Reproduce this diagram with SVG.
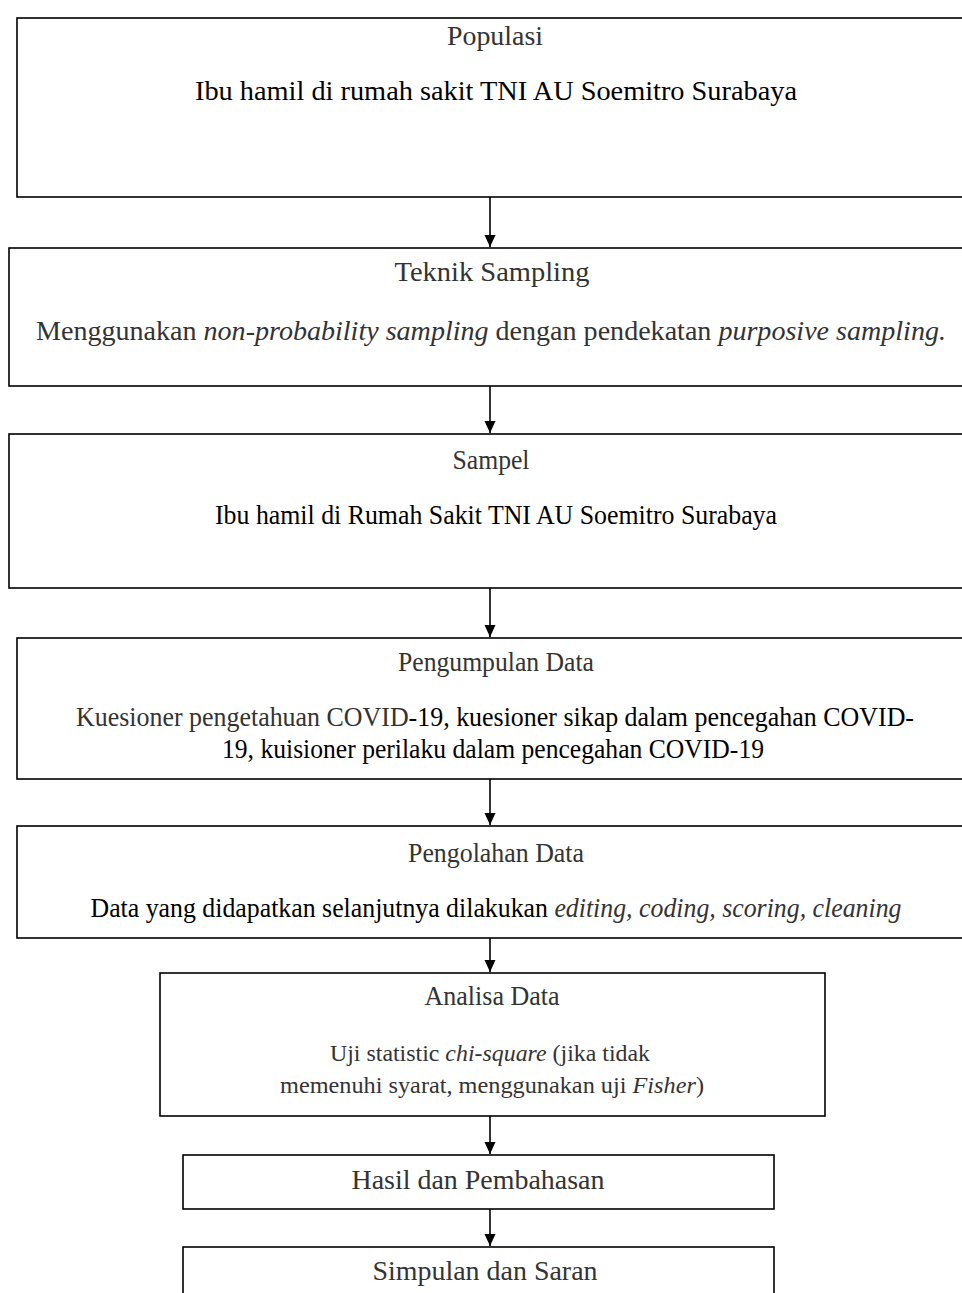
<svg xmlns="http://www.w3.org/2000/svg" width="962" height="1293" viewBox="0 0 962 1293">
<style>
.box{fill:#fff;stroke:#000;stroke-width:1.6}
text{font-family:'Liberation Serif','Times New Roman',serif;text-anchor:middle;font-size:27px}
.g{fill:#333}
.k{fill:#000}
.sm{font-size:23.5px}
.conn line{stroke:#000;stroke-width:1.6}
</style>
<defs>
<marker id="ah" viewBox="0 0 12 12" refX="12" refY="6" markerWidth="12" markerHeight="12" markerUnits="userSpaceOnUse" orient="auto">
<path d="M0,0.5 L12,6 L0,11.5 z" fill="#000"/>
</marker>
</defs>
<rect width="962" height="1293" fill="#fff"/>
<g id="n1">
<rect class="box" x="17" y="18" width="960" height="179"/>
<text class="g" x="495" y="45" textLength="96" lengthAdjust="spacingAndGlyphs">Populasi</text>
<text class="k" x="496" y="100" textLength="602" lengthAdjust="spacingAndGlyphs">Ibu hamil di rumah sakit TNI AU Soemitro Surabaya</text>
</g>
<g id="n2">
<rect class="box" x="9" y="248" width="968" height="138"/>
<text class="g" x="492" y="281" textLength="195" lengthAdjust="spacingAndGlyphs">Teknik Sampling</text>
<text class="g" x="491" y="340" textLength="910" lengthAdjust="spacingAndGlyphs">Menggunakan <tspan font-style="italic">non-probability sampling</tspan> dengan pendekatan <tspan font-style="italic">purposive sampling.</tspan></text>
</g>
<g id="n3">
<rect class="box" x="9" y="434" width="968" height="154"/>
<text class="g" x="491" y="469" textLength="77" lengthAdjust="spacingAndGlyphs">Sampel</text>
<text class="k" x="496" y="524" textLength="562" lengthAdjust="spacingAndGlyphs">Ibu hamil di Rumah Sakit TNI AU Soemitro Surabaya</text>
</g>
<g id="n4">
<rect class="box" x="17" y="638" width="960" height="141"/>
<text class="g" x="496" y="671" textLength="196" lengthAdjust="spacingAndGlyphs">Pengumpulan Data</text>
<text class="k" x="495" y="726" textLength="838" lengthAdjust="spacingAndGlyphs"><tspan class="g">Kuesioner pengetahuan COVID</tspan>-19, kuesioner sikap dalam pencegahan COVID-</text>
<text class="k" x="493" y="758" textLength="542" lengthAdjust="spacingAndGlyphs">19, kuisioner perilaku dalam pencegahan COVID-19</text>
</g>
<g id="n5">
<rect class="box" x="17" y="826" width="960" height="112"/>
<text class="g" x="496" y="862" textLength="176" lengthAdjust="spacingAndGlyphs">Pengolahan Data</text>
<text class="k" x="496" y="917" textLength="811" lengthAdjust="spacingAndGlyphs">Data yang didapatkan selanjutnya dilakukan <tspan class="g" font-style="italic">editing, coding, scoring, cleaning</tspan></text>
</g>
<g id="n6">
<rect class="box" x="160" y="973" width="665" height="143"/>
<text class="g" x="492" y="1005" textLength="135" lengthAdjust="spacingAndGlyphs">Analisa Data</text>
<text class="g sm" x="490" y="1061" textLength="320" lengthAdjust="spacingAndGlyphs">Uji statistic <tspan font-style="italic">chi-square</tspan> (jika tidak</text>
<text class="g sm" x="492" y="1093" textLength="424" lengthAdjust="spacingAndGlyphs">memenuhi syarat, menggunakan uji <tspan font-style="italic">Fisher</tspan>)</text>
</g>
<g id="n7">
<rect class="box" x="183" y="1155" width="591" height="54"/>
<text class="g" x="478" y="1189" textLength="253" lengthAdjust="spacingAndGlyphs">Hasil dan Pembahasan</text>
</g>
<g id="n8">
<rect class="box" x="183" y="1247" width="591" height="60"/>
<text class="g" x="485" y="1280" textLength="225" lengthAdjust="spacingAndGlyphs">Simpulan dan Saran</text>
</g>
<g class="conn" id="connectors">
<line x1="490" y1="197" x2="490" y2="247" marker-end="url(#ah)"/>
<line x1="490" y1="386" x2="490" y2="433" marker-end="url(#ah)"/>
<line x1="490" y1="588" x2="490" y2="637" marker-end="url(#ah)"/>
<line x1="490" y1="779" x2="490" y2="825" marker-end="url(#ah)"/>
<line x1="490" y1="938" x2="490" y2="972" marker-end="url(#ah)"/>
<line x1="490" y1="1116" x2="490" y2="1154" marker-end="url(#ah)"/>
<line x1="490" y1="1209" x2="490" y2="1246" marker-end="url(#ah)"/>
</g>
</svg>
